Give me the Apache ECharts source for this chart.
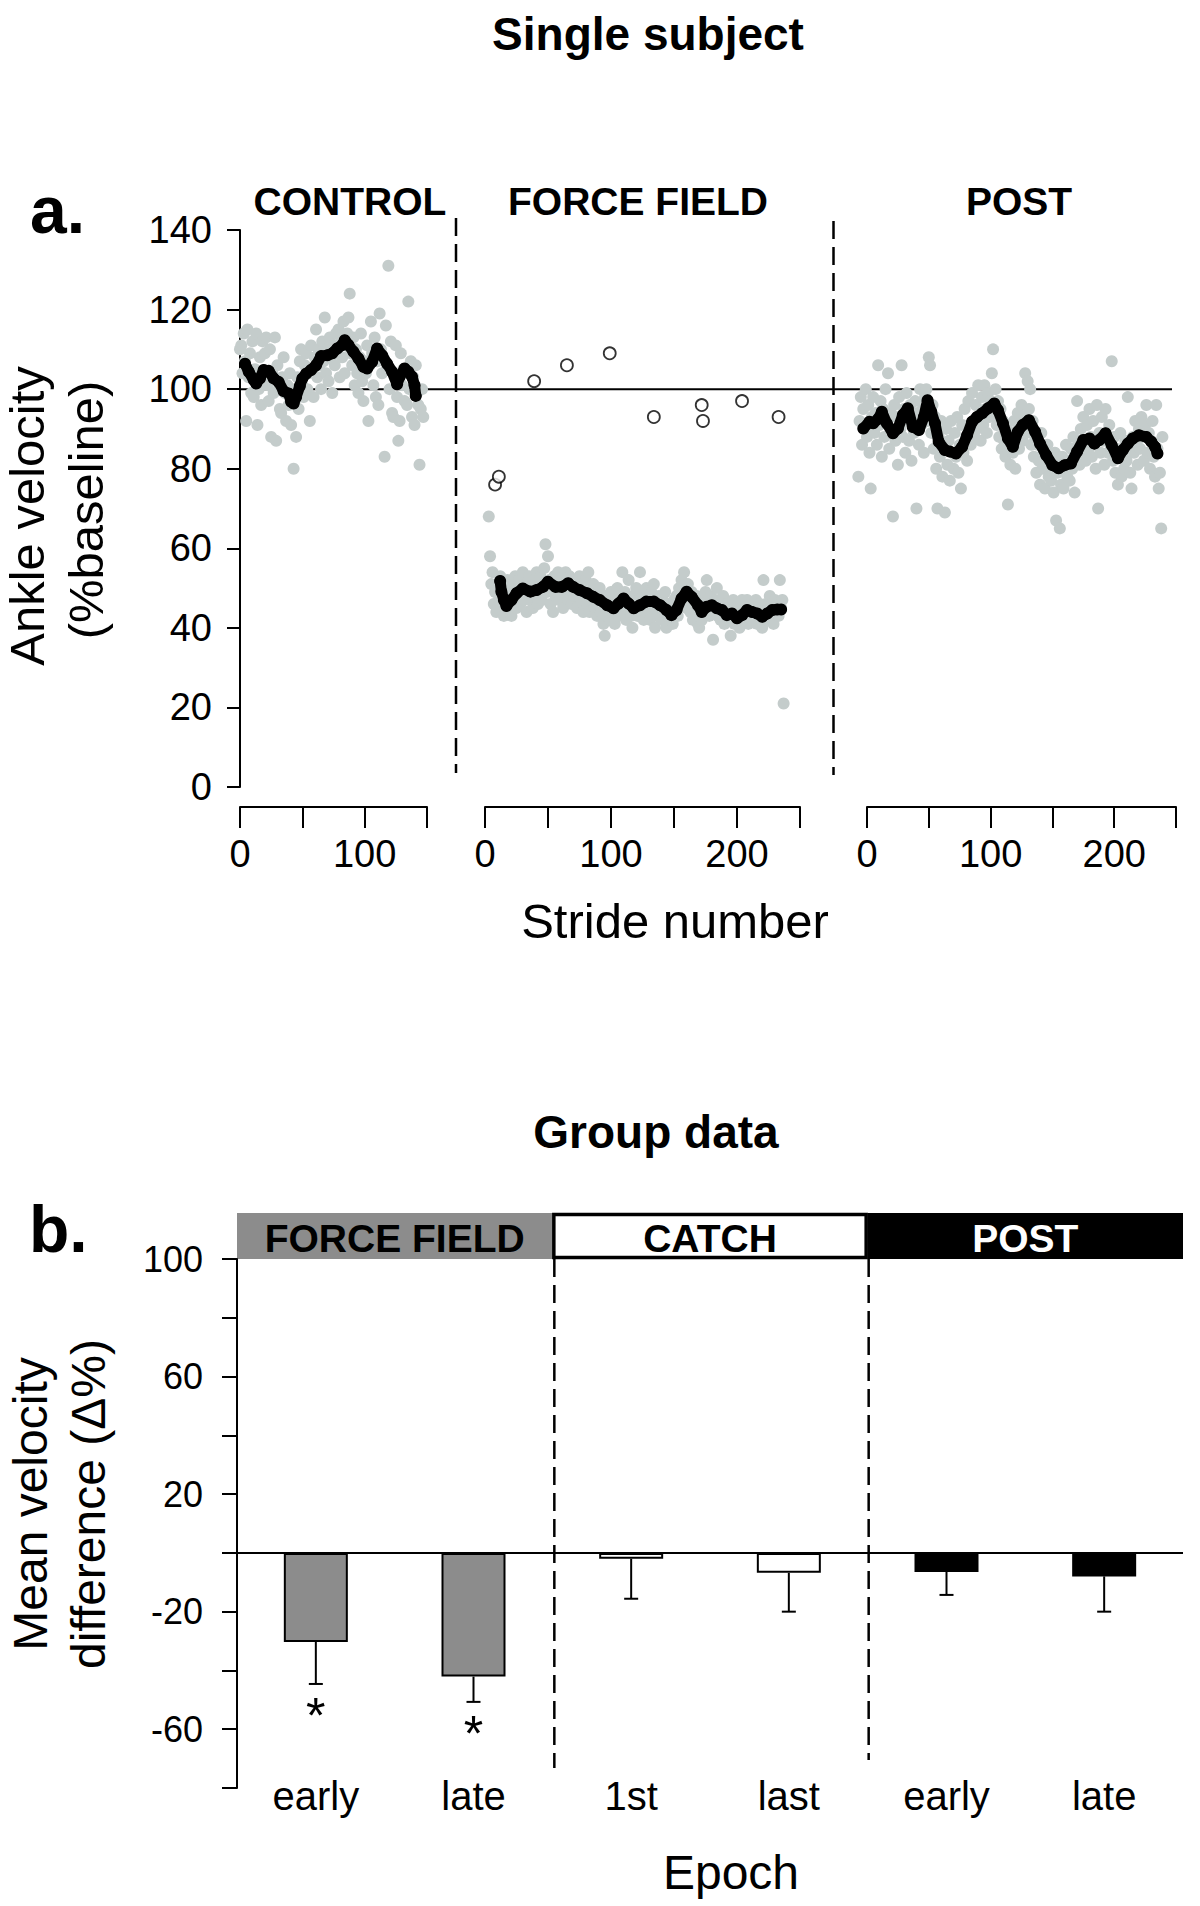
<!DOCTYPE html>
<html><head><meta charset="utf-8">
<script src="https://cdn.jsdelivr.net/npm/echarts@6/dist/echarts.min.js"></script>
<style>html,body{margin:0;padding:0;background:#fff}#c{width:1200px;height:1906px}</style>
</head><body><div id="c"></div><script>
// ---------------- DATA ----------------
// Panel a: single subject, stride-by-stride ankle velocity (% baseline)
const ctrlGrayStart = 0;
const ctrlGray = [110,111,104,114,107,92,115,103,109,99,112,
 98,105,114,91,100,108,96,112,103,109,
 113,101,97,110,88,104,99,113,87,106,
 100,95,94,103,108,99,92,101,96,104,
 91,100,80,97,88,103,95,107,110,101,
 98,106,109,100,104,92,111,105,98,108,
 115,103,110,106,100,112,107,118,104,110,
 102,113,108,99,111,106,114,109,115,103,
 112,108,117,104,111,114,118,124,109,106,
 113,101,110,104,99,108,114,102,97,107,
 104,111,92,106,117,109,101,113,98,107,
 96,119,110,104,108,83,116,105,131,100,
 112,94,93,103,111,98,87,92,109,101,
 105,97,104,96,122,100,107,93,103,91,
 106,99,96,81,95,100,93];
const ctrlMean = [[4,106.4],[7,104.4],[11,102.3],[13,101.4],[16,102.7],[19,104.8],[23,104.6],[27,102.7],[31,101.8],[35,99.5],[39,98.9],[41,96.8],[43,96.4],[45,98],[48,100.8],[50,102.7],[53,103.9],[57,104.8],[61,106],[65,108.3],[70,108.5],[74,109],[78,110.2],[82,111.1],[84,112.3],[87,111.1],[91,109.4],[95,107.7],[99,105.6],[102,105.2],[106,106.9],[110,110.2],[114,108.5],[118,106.4],[122,104.4],[126,101.2],[128,103.1],[132,105.2],[135,104.4],[138,103.1],[140,101],[141,98.3]];

const ffGrayStart = 3;
const ffGray = [68,58,51,54,46,49,44,50,
 47,53,45,48,43,50,46,52,44,48,
 43,51,47,53,45,49,52,46,50,54,
 47,51,44,49,53,47,50,45,52,48,
 54,46,50,53,47,51,55,61,49,58,
 52,46,50,44,53,48,51,54,47,50,
 52,45,49,54,51,47,53,50,46,52,
 48,51,45,49,53,47,50,44,48,52,
 46,54,44,49,47,51,45,48,43,47,
 50,44,46,41,38,48,43,46,42,49,
 44,47,41,45,50,43,48,46,54,44,
 49,42,47,52,45,43,40,48,45,50,
 43,47,54,44,48,42,46,50,44,47,
 42,49,45,51,40,46,43,48,45,42,
 47,44,49,40,43,46,42,45,41,47,
 44,48,43,50,47,52,46,54,49,45,
 51,47,44,49,42,46,43,48,41,40,
 45,42,47,44,49,52,46,43,48,45,
 37,44,47,50,43,46,42,45,48,41,
 44,46,42,45,38,43,47,41,44,42,
 46,40,44,47,42,45,43,47,41,44,
 46,42,45,43,47,41,44,46,42,40,
 52,44,46,42,45,48,43,46,41,47,
 44,46,43,52,45,47,21];
const ffMean = [[12,51.8],[13,49.1],[15,47],[17,45.5],[21,47],[25,48.7],[30,49.9],[36,49.1],[41,49.5],[46,50.3],[50,51.6],[56,50.3],[61,50.3],[66,51.2],[70,50.3],[75,49.5],[81,48.7],[86,47.8],[91,47],[97,45.7],[102,44.9],[106,46.1],[110,47.4],[114,46.1],[118,44.9],[123,45.7],[128,46.6],[134,46.6],[139,45.7],[144,44.5],[148,43.2],[152,44.5],[156,47.4],[160,49.1],[164,47.8],[169,45.7],[172,44],[176,45.3],[180,45.7],[184,44.9],[188,44.5],[192,43.2],[196,43.6],[200,42.4],[204,43.2],[208,44.5],[212,44],[216,43.6],[220,42.8],[224,43.6],[228,44.5],[232,44.6],[235,44.6]];
const ffCatch = [[8,76],[11,78],[39,102],[65,106],[99,109],[134,93],[172,96],[173,92],[204,97],[233,93]];

const postGrayStart = -7;
const postGray = [78,92,98,86,95,90,100,
 88,96,84,75,93,98,89,94,86,106,
 91,97,83,95,88,100,92,104,85,94,
 90,68,96,87,93,81,98,90,106,88,
 95,84,99,92,87,96,82,93,89,97,
 70,94,86,100,91,95,84,98,100,92,
 108,106,89,96,85,93,80,70,88,83,
 92,78,86,69,90,81,87,77,92,84,
 80,89,83,93,79,86,75,91,84,95,
 88,82,97,90,86,99,92,88,96,90,
 101,93,87,98,91,101,95,89,99,93,
 97,104,110,94,100,91,97,88,95,85,
 92,87,83,90,71,86,81,89,84,92,
 80,88,94,85,90,96,87,93,104,89,
 102,95,100,86,92,83,88,79,86,82,
 76,89,80,84,75,81,86,78,83,77,
 80,74,84,67,79,82,65,76,83,75,
 80,86,78,82,77,85,80,88,74,84,
 97,86,81,90,84,93,87,82,91,85,
 95,88,83,92,86,80,96,70,89,84,
 93,87,81,95,88,84,91,86,107,82,
 88,79,85,76,83,89,78,84,80,87,
 82,98,86,79,75,88,84,92,86,81,
 90,85,93,88,82,91,96,84,89,80,
 87,92,83,78,96,85,75,79,65,88];
const postMean = [[-3,90.1],[2,91.8],[5,91.4],[9,92.5],[12,94.3],[16,91.4],[21,88.9],[25,90.1],[29,93.5],[33,95.2],[37,90.5],[42,89.7],[46,93],[49,97.2],[52,94.3],[55,91.4],[58,86.8],[63,84.7],[67,84.3],[72,83.8],[77,85.5],[81,88.4],[85,91.8],[89,93],[93,93.9],[98,95.2],[103,96.4],[106,94.7],[110,91.4],[114,87.6],[118,85.5],[122,89.3],[126,91],[131,92.2],[136,89.3],[140,86.3],[145,83.4],[150,80.9],[155,80.1],[160,80.9],[165,81.3],[170,84.3],[175,87.2],[180,87.6],[184,86.3],[188,87.2],[193,88.9],[198,85.9],[203,82.6],[207,84.7],[211,86.3],[215,87.6],[220,88.4],[226,88],[230,86.8],[233,85.5],[235,83.8]];

const phaseA = ['CONTROL','FORCE FIELD','POST'];

// Panel b: group data
const epochs = ['early','late','1st','last','early','late'];
const meanDiff = [-30.3,-42.1,-2,-6.8,-6.5,-8];
const semDiff = [14.3,8.6,13.6,13.2,7.8,12];
const barColors = ['#8c8c8c','#8c8c8c','#ffffff','#ffffff','#000000','#000000'];
const significant = [1,1,0,0,0,0];
const phaseB = ['FORCE FIELD','CATCH','POST'];
const phaseBFill = ['#8c8c8c','#ffffff','#000000'];
const phaseBText = ['#000000','#000000','#ffffff'];

// ---------------- CHART ----------------
const FONT = '"Liberation Sans", Arial, Helvetica, sans-serif';
const GRAY = '#c4cccb';

const chart = echarts.init(document.getElementById('c'), null, {renderer:'svg', width:1200, height:1906});

const toPts = (start, arr) => arr.map((v, i) => [start + i, v]);

function xAxisA(gridIndex, max) {
  return {type:'value', gridIndex, min:0, max, interval:50, offset:20,
    axisLine:{show:true, onZero:false, lineStyle:{color:'#000', width:2}},
    axisTick:{show:true, length:21, inside:false, lineStyle:{color:'#000', width:2}},
    axisLabel:{show:true, margin:28, color:'#000', fontSize:38, fontFamily:FONT,
      formatter: v => (v % 100 === 0 ? String(v) : '')},
    splitLine:{show:false}};
}
function yAxisA(gridIndex, show) {
  return {type:'value', gridIndex, min:0, max:140, interval:20, show,
    axisLine:{show:true, onZero:false, lineStyle:{color:'#000', width:2}},
    axisTick:{show:true, length:13, inside:false, lineStyle:{color:'#000', width:2}},
    axisLabel:{show:true, margin:28, color:'#000', fontSize:38, fontFamily:FONT},
    splitLine:{show:false}};
}
const grayScatter = (idx, data) => ({type:'scatter', xAxisIndex:idx, yAxisIndex:idx, data, symbol:'circle',
  symbolSize:12, itemStyle:{color:GRAY, opacity:1}, clip:false, z:2, silent:true});
const meanLine = (idx, data) => ({type:'line', xAxisIndex:idx, yAxisIndex:idx, data, symbol:'circle',
  symbolSize:12, showSymbol:true, itemStyle:{color:'#000'}, lineStyle:{color:'#000', width:11, cap:'round', join:'round'},
  clip:false, z:3, silent:true});

const option = {
  animation:false,
  backgroundColor:'#ffffff',
  grid:[
    {left:240, top:230, width:187, height:557, outerBoundsMode:'none', containLabel:false},
    {left:485, top:230, width:315, height:557, outerBoundsMode:'none', containLabel:false},
    {left:867, top:230, width:309, height:557, outerBoundsMode:'none', containLabel:false},
    {left:237, top:1259, width:946, height:529, outerBoundsMode:'none', containLabel:false}
  ],
  xAxis:[
    xAxisA(0,150), xAxisA(1,250), xAxisA(2,250),
    {type:'category', gridIndex:3, data:epochs, offset:-12,
      axisLine:{show:false}, axisTick:{show:false},
      axisLabel:{show:true, margin:0, color:'#000', fontSize:40, fontFamily:FONT, interval:0},
      splitLine:{show:false}}
  ],
  yAxis:[
    yAxisA(0,true), yAxisA(1,false), yAxisA(2,false),
    {type:'value', gridIndex:3, min:-80, max:100, interval:20,
      axisLine:{show:true, onZero:false, lineStyle:{color:'#000', width:2}},
      axisTick:{show:true, length:15, inside:false, lineStyle:{color:'#000', width:2}},
      axisLabel:{show:true, margin:34, color:'#000', fontSize:36, fontFamily:FONT,
        formatter: v => ((v - 20) % 40 === 0 ? String(v) : '')},
      splitLine:{show:false}}
  ],
  series:[
    grayScatter(0, toPts(ctrlGrayStart, ctrlGray)),
    meanLine(0, ctrlMean),
    grayScatter(1, toPts(ffGrayStart, ffGray)),
    meanLine(1, ffMean),
    {type:'scatter', xAxisIndex:1, yAxisIndex:1, data:ffCatch, symbol:'circle', symbolSize:12,
      itemStyle:{color:'#ffffff', borderColor:'#000', borderWidth:1.8}, z:4, silent:true},
    grayScatter(2, toPts(postGrayStart, postGray)),
    meanLine(2, postMean),
    {type:'bar', xAxisIndex:3, yAxisIndex:3, barWidth:64,
      data: meanDiff.map((v,i)=>({value:v, itemStyle:{color:barColors[i], borderColor:'#000', borderWidth:2}})),
      z:2, silent:true,
      markLine:{silent:true, symbol:['none','none'], label:{show:false},
        lineStyle:{color:'#000', width:2, type:'solid'}, data:[{yAxis:0}]}},
    {type:'custom', xAxisIndex:3, yAxisIndex:3, z:3, silent:true,
      data: semDiff.map((e,i)=>[i, meanDiff[i], e, significant[i]]),
      encode:{x:0, y:1},
      renderItem:(params, api) => {
        const i = api.value(0), m = api.value(1), e = api.value(2), sig = api.value(3);
        const p0 = api.coord([i, m]);
        const p1 = api.coord([i, m - e]);
        const ch = [
          {type:'line', shape:{x1:p0[0], y1:p0[1], x2:p1[0], y2:p1[1]}, style:{stroke:'#000', lineWidth:2}},
          {type:'line', shape:{x1:p1[0]-7, y1:p1[1], x2:p1[0]+7, y2:p1[1]}, style:{stroke:'#000', lineWidth:2}}
        ];
        if (sig) ch.push({type:'text', x:p1[0], y:p1[1]+7,
          style:{text:'*', fontSize:50, fontFamily:FONT, fill:'#000', align:'center', verticalAlign:'top'}});
        return {type:'group', children:ch};
      }}
  ]
};
chart.setOption(option);

// ---------------- DECORATIONS (positioned from the axes) ----------------
const gx = (a, v) => chart.convertToPixel({xAxisIndex:a}, v);
const gy = (a, v) => chart.convertToPixel({yAxisIndex:a}, v);
const txt = (text, x, y, size, opts) => Object.assign({type:'text', x, y, silent:true,
  style:Object.assign({text, fontSize:size, fontFamily:FONT, fill:'#000', align:'center', verticalAlign:'middle',
    textAlign:'center', textVerticalAlign:'middle'}, (opts && opts.style) || {})}, (opts && opts.el) || {});
const dash = (x, y1, y2) => ({type:'line', silent:true, shape:{x1:x, y1, x2:x, y2},
  style:{stroke:'#000', lineWidth:2.5, lineDash:[18,8]}});

const g = [];
// panel a reference line and separators
const y100 = gy(0, 100);
g.push({type:'line', silent:true, shape:{x1:gx(0,0)-1, y1:y100, x2:gx(2,250)-4, y2:y100}, style:{stroke:'#000', lineWidth:2}});
const sepA1 = (gx(0,150) + gx(1,0)) / 2, sepA2 = (gx(1,250) + gx(2,0)) / 2;
g.push(dash(sepA1, gy(0,140)-12, gy(0,0)-14));
g.push(dash(sepA2, gy(0,140)-9, gy(0,0)-12));
// panel a texts
g.push(txt('Single subject', 648, 34, 46, {style:{fontWeight:'bold'}}));
g.push(txt('a.', 30, 210, 66, {style:{fontWeight:'bold', align:'left', textAlign:'left'}}));
g.push(txt(phaseA[0], 350, 201, 39, {style:{fontWeight:'bold'}}));
g.push(txt(phaseA[1], 638, 201, 39, {style:{fontWeight:'bold'}}));
g.push(txt(phaseA[2], 1019, 201, 39, {style:{fontWeight:'bold'}}));
g.push(txt('Ankle velocity', 27, 516, 49, {el:{rotation:Math.PI/2}}));
g.push(txt('(%baseline)', 86, 510, 49, {el:{rotation:Math.PI/2}}));
g.push(txt('Stride number', 675, 921, 49));

// panel b headers
const band = gx(3,1) - gx(3,0);
const bLeft = gx(3,0) - band/2, bRight = gx(3,5) + band/2;
const b1 = (gx(3,1) + gx(3,2)) / 2, b2 = (gx(3,3) + gx(3,4)) / 2;
const yTop = gy(3, 100);
const hH = 46;
g.push({type:'rect', silent:true, shape:{x:bLeft, y:yTop-hH, width:b1-bLeft, height:hH}, style:{fill:phaseBFill[0]}});
g.push({type:'rect', silent:true, shape:{x:b1+1.5, y:yTop-hH+1.5, width:b2-b1-3, height:hH-3}, style:{fill:phaseBFill[1], stroke:'#000', lineWidth:3.5}});
g.push({type:'rect', silent:true, shape:{x:b2, y:yTop-hH, width:bRight-b2, height:hH}, style:{fill:phaseBFill[2]}});
g.push(txt(phaseB[0], (bLeft+b1)/2, yTop-hH/2+2, 39, {style:{fontWeight:'bold', fill:phaseBText[0]}}));
g.push(txt(phaseB[1], (b1+b2)/2, yTop-hH/2+2, 39, {style:{fontWeight:'bold', fill:phaseBText[1]}}));
g.push(txt(phaseB[2], (b2+bRight)/2, yTop-hH/2+2, 39, {style:{fontWeight:'bold', fill:phaseBText[2]}}));
g.push(dash(b1+2, yTop, gy(3,-80)-20));
g.push(dash(b2+1, yTop, gy(3,-80)-28));
// panel b texts
g.push(txt('Group data', 656, 1132, 46, {style:{fontWeight:'bold'}}));
g.push(txt('b.', 29, 1229, 66, {style:{fontWeight:'bold', align:'left', textAlign:'left'}}));
g.push(txt('Mean velocity', 30, 1504, 48, {el:{rotation:Math.PI/2}}));
g.push(txt('difference (\u0394%)', 88, 1504, 48, {el:{rotation:Math.PI/2}}));
g.push(txt('Epoch', 731, 1872, 48));

chart.setOption({graphic:{elements:g}});
</script></body></html>
